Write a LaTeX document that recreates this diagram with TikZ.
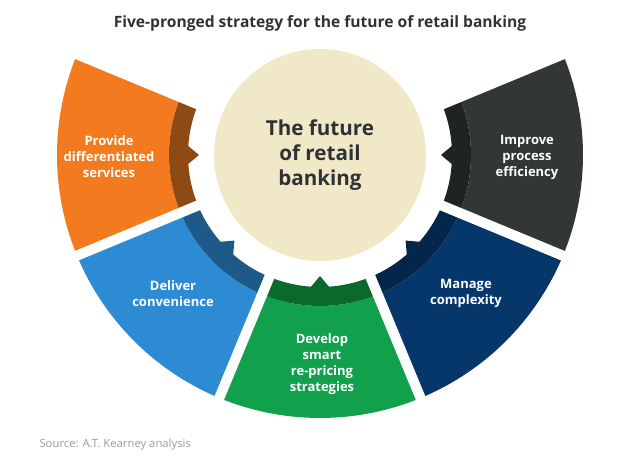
\documentclass[tikz,border=0pt]{standalone}
\usepackage{fontspec}
\setmainfont{Open Sans}
\usepackage{tikz}

\definecolor{hubbeige}{HTML}{F0E8C7}
\definecolor{inktext}{HTML}{2F3234}
\definecolor{sourcegray}{HTML}{9A9A9A}
\definecolor{orangelight}{HTML}{F47A20}
\definecolor{orangedark}{HTML}{8E4A14}
\definecolor{bluelight}{HTML}{2D8BD3}
\definecolor{bluedark}{HTML}{1D5A8A}
\definecolor{greenlight}{HTML}{11A04C}
\definecolor{greendark}{HTML}{0A6A2E}
\definecolor{navylight}{HTML}{05376B}
\definecolor{navydark}{HTML}{03264A}
\definecolor{graylight}{HTML}{323637}
\definecolor{graydark}{HTML}{202324}

\tikzstyle{heading} = [
    text=inktext,
    font=\bfseries\fontsize{15.6}{18}\selectfont
]
\tikzstyle{hub} = [
    circle,
    fill=hubbeige,
    minimum size=212pt,
    align=center,
    text=inktext,
    font=\bfseries\fontsize{20.6}{25}\selectfont
]
\tikzstyle{segtext} = [
    text=white,
    align=center,
    font=\bfseries\fontsize{13}{16}\selectfont
]
\tikzstyle{sourcenote} = [
    anchor=west,
    text=sourcegray,
    font=\fontsize{11.3}{13}\selectfont
]
\tikzstyle{gap} = [white, line width=10pt]

% one prong: #1 centre angle, #2 body colour, #3 band colour
\newcommand{\prong}[3]{
    \fill[#2] (#1-22.5:151) -- (#1-22.5:263)
        arc[start angle=#1-22.5, end angle=#1+22.5, radius=263]
        -- (#1+22.5:151)
        arc[start angle=#1+22.5, end angle=#1-22.5, radius=151] -- cycle;
    \fill[#3] (#1-22.5:132) -- (#1-22.5:151)
        arc[start angle=#1-22.5, end angle=#1+22.5, radius=151]
        -- (#1+22.5:132)
        arc[start angle=#1+22.5, end angle=#1-22.5, radius=132] -- cycle;
    \fill[#3] (#1-4.2:133) -- (#1:121) -- (#1+4.2:133) -- cycle;
    \draw[gap] (#1-22.5:112) -- (#1-22.5:275);
    \draw[gap] (#1+22.5:112) -- (#1+22.5:275);
}

\begin{document}
\begin{tikzpicture}[x=1pt, y=1pt]

\useasboundingbox (0,0) rectangle (640,468);

\node (title) [heading] at (320,445)
{Five-pronged strategy for the future of retail banking};

\begin{scope}[shift={(320,313)}]

\prong{180}{orangelight}{orangedark}
\prong{225}{bluelight}{bluedark}
\prong{270}{greenlight}{greendark}
\prong{315}{navylight}{navydark}
\prong{360}{graylight}{graydark}

\node (provide) [segtext] at (-211,-2)
{Provide\\differentiated\\services};
\node (deliver) [segtext] at (-147,-139)
{Deliver\\convenience};
\node (develop) [segtext] at (2,-209)
{Develop\\smart\\re-pricing\\strategies};
\node (manage) [segtext] at (146,-138)
{Manage\\complexity};
\node (improve) [segtext] at (207,-2)
{Improve\\process\\efficiency};

\node (centre) [hub] at (0,0)
{The future\\of retail\\banking};

\end{scope}

\node (source) [sourcenote] at (36,23)
{Source: A.T. Kearney analysis};

\end{tikzpicture}
\end{document}
